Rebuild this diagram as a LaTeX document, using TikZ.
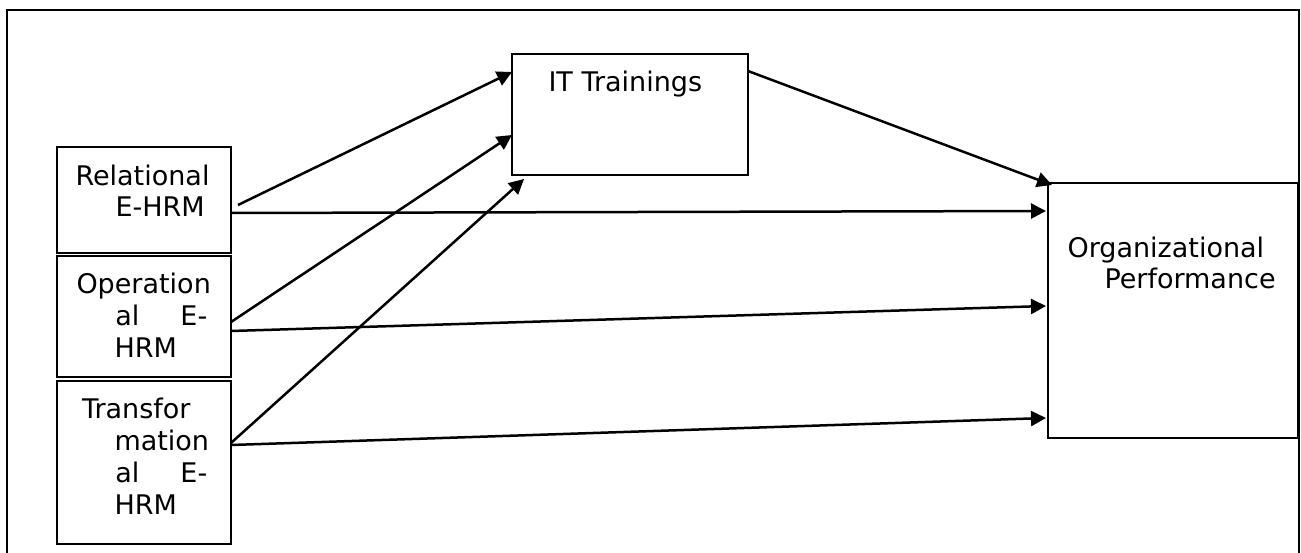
\documentclass[tikz,border=0pt]{standalone}
\usepackage{fontspec}
\setmainfont{DejaVu Sans}
\usetikzlibrary{arrows.meta}
\begin{document}
\begin{tikzpicture}[x=1pt,y=-1pt,
  box/.style={draw, line width=2.2pt, inner sep=0pt, outer sep=0pt, anchor=north west},
  lbl/.style={anchor=base west, inner sep=0pt, outer sep=0pt, font=\fontsize{27}{32}\selectfont},
  conn/.style={line width=2.5pt, -{Triangle[length=15pt,width=15pt]}}]
\useasboundingbox (0,0) rectangle (1301,553);
\draw[line width=2.5pt] (7,553) -- (7,10) -- (1299,10) -- (1299,553);
% boxes
\node[box, minimum width=174pt, minimum height=106pt] (rel) at (57,147) {};
\node[box, minimum width=174pt, minimum height=121pt] (ops) at (57,256) {};
\node[box, minimum width=174pt, minimum height=163pt] (trans) at (57,381) {};
\node[box, minimum width=236pt, minimum height=121pt] (it) at (512,54) {};
\node[box, minimum width=250pt, minimum height=255pt] (org) at (1048,183) {};
% labels
\node[lbl] (rel1) at (75.5,186) {Relational};
\node[lbl] (rel2) at (115.5,217) {E-HRM};
\node[lbl] (ops1) at (76.5,294) {Operation};
\node[lbl] (ops2) at (115.4,326) {al\hspace{41pt}E-};
\node[lbl] (ops3) at (114.5,357) {HRM};
\node[lbl] (tr1) at (82,418) {Transfor};
\node[lbl] (tr2) at (114.5,450) {mation};
\node[lbl] (tr3) at (115.4,482) {al\hspace{41pt}E-};
\node[lbl] (tr4) at (114.5,514) {HRM};
\node[lbl] (it1) at (548.5,92) {IT Trainings};
\node[lbl] (org1) at (1067.5,258) {Organizational};
\node[lbl] (org2) at (1104.5,289) {Performance};
% connectors
\draw[conn] ([xshift=7pt,yshift=-5pt]rel.east) -- ([yshift=42.5pt]it.west);
\draw[conn] ([yshift=-13pt]rel.east) -- ([xshift=-2pt,yshift=99.5pt]org.west);
\draw[conn] ([yshift=-5.5pt]ops.east) -- ([yshift=-20.5pt]it.west);
\draw[conn] ([yshift=-14.5pt]ops.east) -- ([xshift=-2pt,yshift=4.5pt]org.west);
\draw[conn] ([yshift=19.5pt]trans.east) -- ([xshift=12pt,yshift=-4pt]it.south west);
\draw[conn] ([yshift=17.5pt]trans.east) -- ([xshift=-2pt,yshift=-107.5pt]org.west);
\draw[conn] ([yshift=43.5pt]it.east) -- ([xshift=4pt,yshift=-2pt]org.north west);
\end{tikzpicture}
\end{document}
